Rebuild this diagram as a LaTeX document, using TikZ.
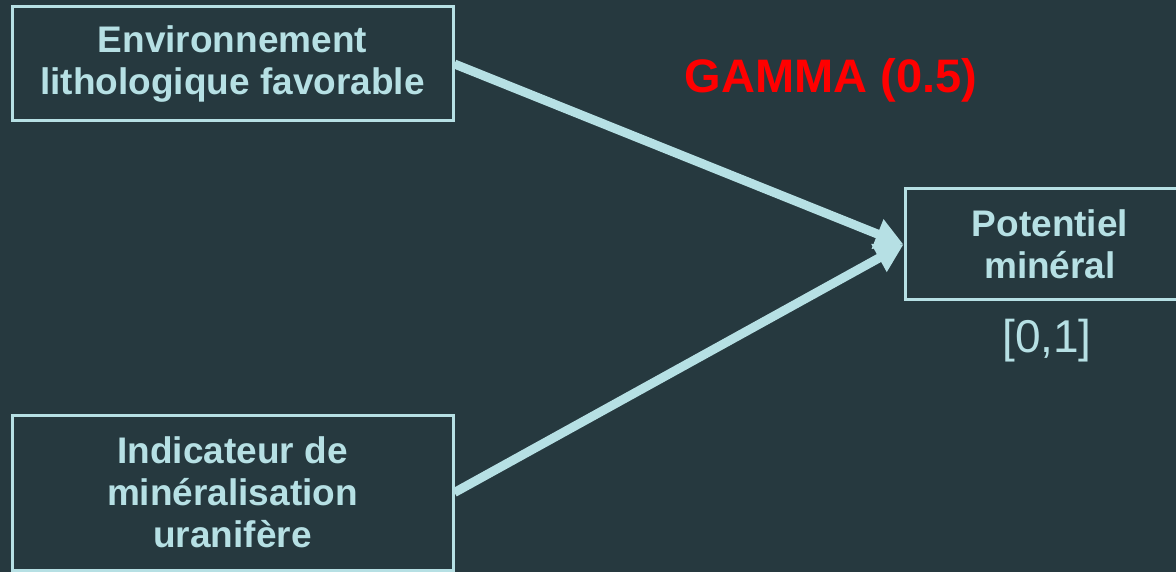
\documentclass[tikz,border=0pt]{standalone}
\usepackage{fontspec}
\setmainfont{Liberation Sans}
\usetikzlibrary{arrows.meta}
\definecolor{bgdark}{RGB}{38,57,63}
\definecolor{pale}{RGB}{182,224,228}
\definecolor{gammared}{RGB}{255,0,0}
\tikzset{
  box/.style={draw=pale, line width=3pt, text=pale, align=center,
    inner sep=0pt, font=\bfseries\fontsize{37}{42}\selectfont},
  flow/.style={draw=pale, line width=9pt,
    -{Triangle[length=28pt,width=30pt]}}
}
\begin{document}
\begin{tikzpicture}[x=1pt,y=-1pt]
  \fill[bgdark] (0,0) rectangle (1176,572);
  \useasboundingbox (0,0) rectangle (1176,572);
  \node[box, minimum width=441pt, minimum height=114pt] (litho) at (232.5,64)
    {Environnement\\lithologique favorable};
  \node[box, minimum width=441pt, minimum height=155pt] (indic) at (232.5,492.5)
    {Indicateur de\\minéralisation\\uranifère};
  \node[box, minimum width=290pt, minimum height=111pt] (pot) at (1050,244.5)
    {Potentiel\\minéral};
  \node[text=pale, font=\fontsize{46}{50}\selectfont, anchor=base] (range) at (1047,352) {[0,1]};
  \node[text=gammared, font=\bfseries\fontsize{47}{52}\selectfont, anchor=base] (gamma) at (831,93) {GAMMA (0.5)};
  \draw[flow] (litho.east) -- (pot.west);
  \draw[flow] (indic.east) -- (pot.west);
\end{tikzpicture}
\end{document}
